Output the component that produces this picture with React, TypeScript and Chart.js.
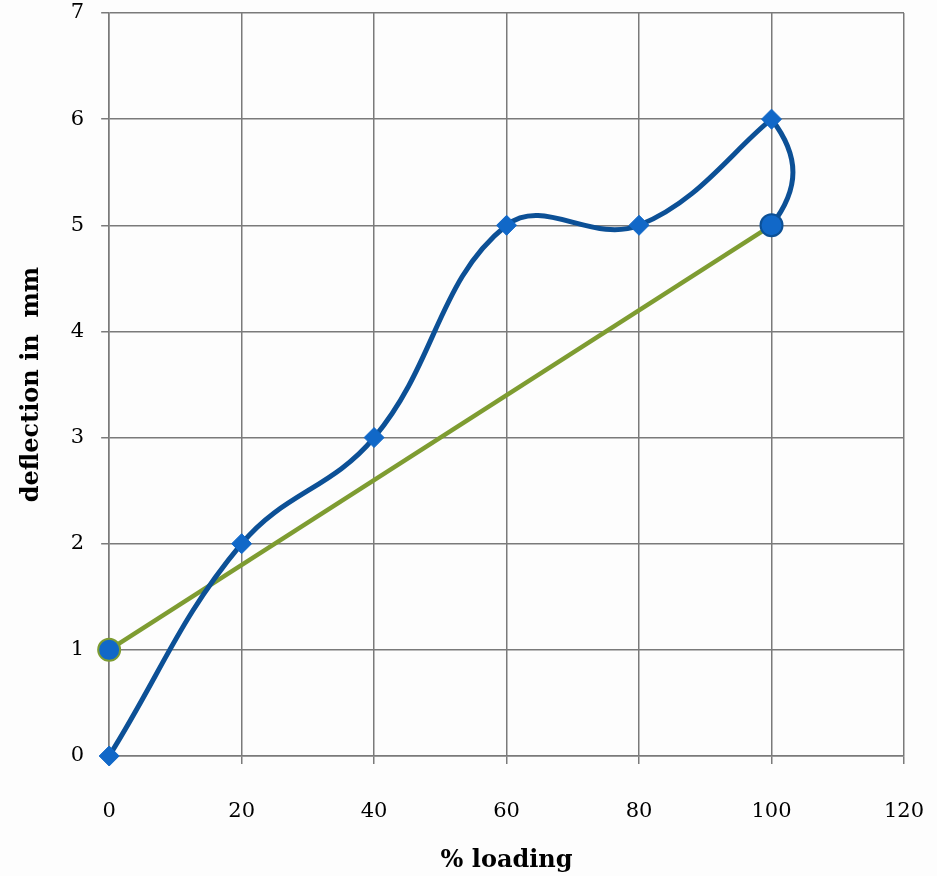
import React, { useEffect, useRef } from "react";
import { Chart, registerables } from "chart.js";

Chart.register(...registerables);

const loading = [0, 20, 40, 60, 80, 100, 100];
const deflection = [0, 2, 3, 5, 5, 6, 5];
const trendLoading = [0, 100];
const trendDeflection = [1, 5];
const xTitle = "% loading";
const yTitle = "deflection in  mm";

const bgPlugin = {
  id: "bg",
  beforeDraw(chart: any) {
    const ctx = chart.ctx;
    ctx.save();
    ctx.fillStyle = "#fdfdfd";
    ctx.fillRect(0, 0, chart.width, chart.height);
    ctx.restore();
  },
};

// Reshape the smoothing arms around the 100% return loop so it bulges like the original.
const loopPlugin = {
  id: "loop",
  beforeDatasetDraw(chart: any, args: any) {
    if (args.index !== 1) return;
    const meta = chart.getDatasetMeta(1);
    const line = meta.dataset;
    if (!line) return;
    line.updateControlPoints(chart.chartArea, "x");
    const pts = meta.data;
    const prev = pts[4];
    const peak = pts[5];
    const last = pts[6];
    if (peak && prev && last) {
      const arm = (peak.cp2x - peak.x) * 1.4;
      const drop = (last.y - peak.y) * 0.35;
      peak.cp1x = peak.x + (prev.x - peak.x) * 0.3;
      peak.cp1y = peak.y + (prev.y - peak.y) * 0.3;
      peak.cp2x = peak.x + arm;
      peak.cp2y = peak.y + drop;
      last.cp1x = last.x + arm;
      last.cp1y = last.y - drop;
    }
  },
};

export default function App() {
  const ref = useRef<HTMLCanvasElement | null>(null);
  useEffect(() => {
    document.body.style.margin = "0";
    const font = "'DejaVu Serif', serif";
    const chart = new Chart(ref.current as HTMLCanvasElement, {
      type: "line",
      data: {
        datasets: [
          {
            label: "trend",
            data: trendLoading.map((x, i) => ({ x, y: trendDeflection[i] })),
            borderColor: "#7e9c31",
            borderWidth: 4.5,
            pointStyle: "circle",
            pointRadius: [11, 0],
            pointBackgroundColor: "#1168c8",
            pointBorderColor: "#7e9c31",
            pointBorderWidth: 2,
            tension: 0,
            clip: false,
            order: 2,
          },
          {
            label: "deflection",
            data: loading.map((x, i) => ({ x, y: deflection[i] })),
            borderColor: "#0c5096",
            borderWidth: 5,
            pointStyle: ["rectRot", "rectRot", "rectRot", "rectRot", "rectRot", "rectRot", "circle"],
            pointRadius: [10, 10, 10, 10, 10, 10, 11],
            pointBackgroundColor: "#1168c8",
            pointBorderColor: ["#1168c8", "#1168c8", "#1168c8", "#1168c8", "#1168c8", "#1168c8", "#0c5096"],
            pointBorderWidth: [1, 1, 1, 1, 1, 1, 2],
            tension: 0.4,
            clip: false,
            order: 1,
          },
        ],
      },
      options: {
        animation: false,
        responsive: false,
        layout: { padding: { top: 0, right: 0, bottom: 1, left: 17 } },
        plugins: { legend: { display: false }, tooltip: { enabled: false } },
        scales: {
          x: {
            type: "linear",
            min: 0,
            max: 120,
            afterFit(scale: any) {
              scale.paddingLeft = 0;
              scale.paddingRight = 33;
            },
            ticks: { stepSize: 20, color: "#000", font: { family: font, size: 21 }, padding: 35 },
            grid: { color: "#7a7a7a", lineWidth: 1.5, tickLength: 8, drawTicks: true },
            border: { color: "#7a7a7a", width: 1.5 },
            title: { display: true, text: xTitle, color: "#000", font: { family: font, size: 24, weight: "bold" }, padding: { top: -13, bottom: 0 } },
          },
          y: {
            type: "linear",
            min: 0,
            max: 7,
            afterFit(scale: any) {
              scale.paddingTop = 12;
              scale.paddingBottom = 0;
            },
            ticks: { stepSize: 1, color: "#000", font: { family: font, size: 21 }, padding: 17 },
            grid: { color: "#7a7a7a", lineWidth: 1.5, tickLength: 8, drawTicks: true },
            border: { color: "#7a7a7a", width: 1.5 },
            title: { display: true, text: yTitle, color: "#000", font: { family: font, size: 24, weight: "bold" }, padding: { top: 0, bottom: 8 } },
          },
        },
      },
      plugins: [bgPlugin, loopPlugin],
    } as any);
    return () => chart.destroy();
  }, []);
  return <canvas ref={ref} width={937} height={876} style={{ display: "block" }} />;
}
